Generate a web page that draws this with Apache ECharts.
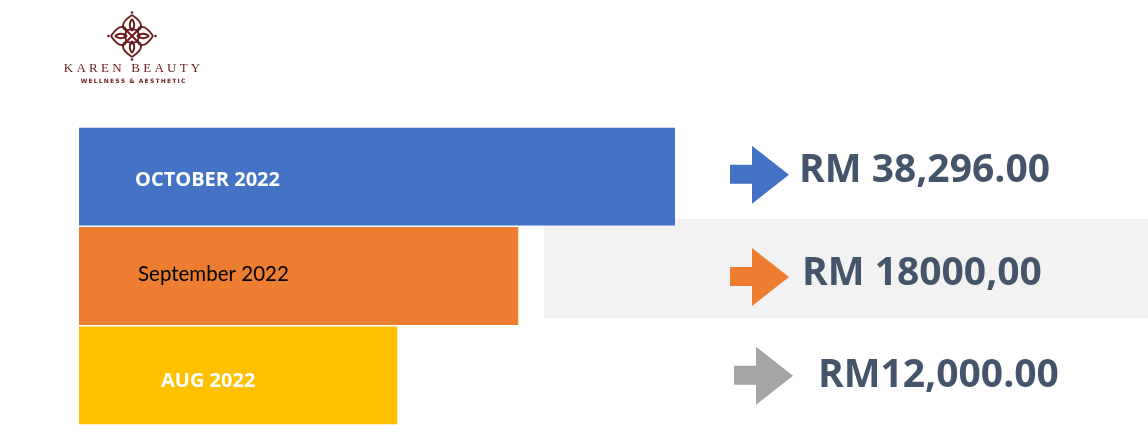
<!DOCTYPE html>
<html>
	<head>
		<meta charset="utf-8">
		<title>Karen Beauty sales</title>
		<script src="https://cdn.jsdelivr.net/npm/echarts@6/dist/echarts.min.js"></script>
	</head>
	<body style="margin:0;padding:0;background:#fff">
		<div id="main" style="width:1148px;height:446px;"></div>
	</body>
	<script type="text/javascript">
		var myChart = echarts.init(document.getElementById('main'));

// data
var categories = ['OCTOBER 2022', 'September 2022', 'AUG 2022'];
// bar lengths as drawn, relative to October = 100 (the picture does not scale them to the amounts)
var barLength = [100, 73.7, 53.4];
var amounts = ['RM 38,296.00', 'RM 18000,00', 'RM12,000.00'];

var barColors = ['#4472C4', '#ED7D31', '#FFC000'];
var arrowColors = ['#4472C4', '#ED7D31', '#A5A5A5'];
var maroon = '#6B1A1E';

// label look of each bar (text inside the bars)
var barLabelStyles = [
    { distance: 56, offset: [0, 4], color: '#fff', fontWeight: 'bold', fontFamily: 'Open Sans', fontSize: 20 },
    { distance: 59, offset: [0, -2], color: '#000', fontWeight: 'normal', fontFamily: 'Lato', fontSize: 20.5 },
    { distance: 82, offset: [0, 6], color: '#fff', fontWeight: 'bold', fontFamily: 'Open Sans', fontSize: 20 }
];
// arrow placement tweaks + amount label spacing
var arrowOffsets = [[29.5, -2], [29.5, 1], [33.5, 0.5]];
var amountLabels = [
    { distance: 10, offset: [0, -4] },
    { distance: 13, offset: [0, -3.5] },
    { distance: 25, offset: [0, 0] }
];

var arrowPath = 'path://M0,19L22,19L22,0L59,29L22,58L22,38L0,38Z';

// logo petal (pointing up, around the logo centre) as cubic segments:
// [x1, y1, cpx1, cpy1, cpx2, cpy2, x2, y2]
var petalCurves = [
    [0, -21, -6, -17, -10, -13, -9, -9],
    [-9, -9, -8, -5, -3, -5, 0, -8],
    [0, -8, 3, -5, 8, -5, 9, -9],
    [9, -9, 10, -13, 6, -17, 0, -21],
    [0, -17, -3, -13, -3, -9, 0, -5],
    [0, -5, 3, -9, 3, -13, 0, -17]
];
var logoParts = [];
for (var k = 0; k < 4; k++) {
    petalCurves.forEach(function (c) {
        logoParts.push({
            type: 'bezierCurve',
            rotation: k * Math.PI / 2,
            shape: { x1: c[0], y1: c[1], cpx1: c[2], cpy1: c[3], cpx2: c[4], cpy2: c[5], x2: c[6], y2: c[7] },
            style: { fill: null, stroke: maroon, lineWidth: 1.9 }
        });
    });
    logoParts.push({
        type: 'circle',
        shape: { cx: 23.5 * Math.sin(k * Math.PI / 2), cy: -23.5 * Math.cos(k * Math.PI / 2), r: 1.3 },
        style: { fill: maroon }
    });
}
logoParts.push({
    type: 'line',
    shape: { x1: -7, y1: -7, x2: 7, y2: 7 },
    style: { stroke: maroon, lineWidth: 1.9 }
});
logoParts.push({
    type: 'line',
    shape: { x1: 7, y1: -7, x2: -7, y2: 7 },
    style: { stroke: maroon, lineWidth: 1.9 }
});

option = {
    animation: false,
    backgroundColor: '#fff',
    grid: [
        { left: 79, width: 596, top: 127, height: 298 },
        { left: 730, right: 0, top: 127, height: 298 }
    ],
    xAxis: [
        { type: 'value', gridIndex: 0, min: 0, max: 100, show: false },
        { type: 'value', gridIndex: 1, min: 0, max: 1, show: false }
    ],
    yAxis: [
        { type: 'category', gridIndex: 0, data: categories, inverse: true, show: false },
        { type: 'category', gridIndex: 1, data: categories, inverse: true, show: false }
    ],
    graphic: [
        {
            type: 'rect',
            z: 0,
            shape: { x: 544, y: 219, width: 604, height: 99 },
            style: { fill: '#F2F2F2' }
        },
        {
            type: 'group',
            x: 132,
            y: 36,
            children: logoParts
        },
        {
            type: 'text',
            x: 132,
            y: 69,
            style: {
                text: 'K A R E N   B E A U T Y',
                fill: maroon,
                font: '13px "Liberation Serif"',
                textAlign: 'center',
                textVerticalAlign: 'middle'
            }
        },
        {
            type: 'text',
            x: 133,
            y: 81.5,
            style: {
                text: 'W\u2009E\u2009L\u2009L\u2009N\u2009E\u2009S\u2009S  &  A\u2009E\u2009S\u2009T\u2009H\u2009E\u2009T\u2009I\u2009C',
                fill: maroon,
                font: 'bold 6px "DejaVu Sans"',
                textAlign: 'center',
                textVerticalAlign: 'middle'
            }
        }
    ],
    series: [
        {
            type: 'bar',
            xAxisIndex: 0,
            yAxisIndex: 0,
            barCategoryGap: '1.5%',
            z: 2,
            label: {
                show: true,
                position: 'insideLeft',
                formatter: function (p) { return p.name; }
            },
            data: barLength.map(function (v, i) {
                return {
                    value: v,
                    itemStyle: { color: barColors[i] },
                    label: barLabelStyles[i]
                };
            })
        },
        {
            type: 'scatter',
            xAxisIndex: 1,
            yAxisIndex: 1,
            clip: false,
            z: 3,
            symbol: arrowPath,
            symbolSize: [59, 58],
            itemStyle: { opacity: 1 },
            label: {
                show: true,
                position: 'right',
                color: '#44546A',
                fontFamily: 'Open Sans',
                fontWeight: 'bold',
                fontSize: 39,
                formatter: function (p) { return amounts[p.dataIndex]; }
            },
            data: categories.map(function (c, i) {
                return {
                    value: [0, c],
                    symbolOffset: arrowOffsets[i],
                    itemStyle: { color: arrowColors[i], opacity: 1 },
                    label: amountLabels[i]
                };
            })
        }
    ]
};
		myChart.setOption(option);
	</script>
</html>
